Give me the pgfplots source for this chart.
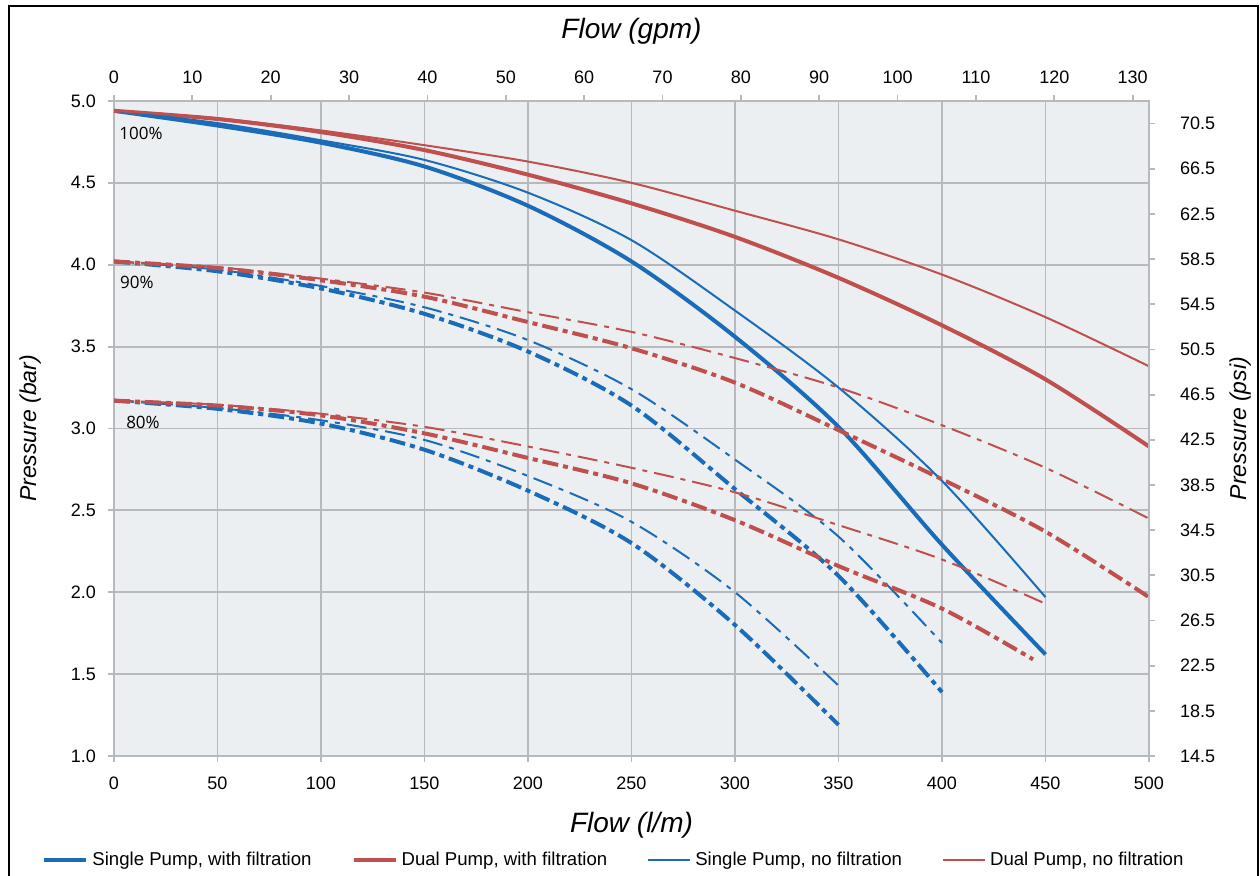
\documentclass[border=0pt]{standalone}
\usepackage{fontspec}
\setmainfont{Liberation Sans}
\newfontfamily\pctfont{Open Sans}
\usepackage{pgfplots}
\pgfplotsset{compat=1.18}
\definecolor{cblue}{RGB}{26,108,184}
\definecolor{cred}{RGB}{192,80,77}
\definecolor{bgc}{RGB}{236,239,242}
\definecolor{gridc}{RGB}{183,185,188}
\tikzset{
  thickdd/.style={line width=2pt, dash pattern=on 8pt off 2.5pt on 2.5pt off 2.5pt},
  thindd/.style={line width=1pt, dash pattern=on 10pt off 3.5pt on 2.5pt off 3.5pt},
}
\begin{document}
\begin{tikzpicture}
\useasboundingbox (0pt,0pt) rectangle (630pt,438pt);
\draw[line width=1.3pt] (4.5pt,-5pt) rectangle (629pt,435pt);
\begin{axis}[
  at={(57pt,60pt)}, anchor=south west, scale only axis,
  width=517.5pt, height=327.5pt,
  xmin=0, xmax=500, ymin=1, ymax=5,
  xtick={0,50,...,500}, ytick={1,1.5,...,5},
  xtick pos=bottom, ytick pos=left,
  grid=major, major grid style={gridc, line width=0.9pt},
  axis line style={gridc, line width=0.9pt, -},
  tick style={gridc, line width=0.9pt},
  tick align=outside, major tick length=3pt,
  axis background/.style={fill=bgc},
  ticklabel style={font=\fontsize{9}{10}\selectfont},
  /pgf/number format/assume math mode=true,
  yticklabel style={/pgf/number format/.cd, fixed, fixed zerofill, precision=1},
  xticklabel shift=4pt, yticklabel shift=2.5pt,
  xlabel={\itshape Flow (l/m)}, ylabel={\itshape Pressure (bar)},
  xlabel style={at={(axis description cs:0.5,-0.105)}, anchor=center, font=\fontsize{14}{16}\selectfont},
  ylabel style={at={(axis description cs:-0.081,0.5)}, anchor=center, font=\fontsize{11.5}{13}\selectfont},
  legend style={at={(axis description cs:0.484,-0.159)}, anchor=center, draw=none, fill=none,
    font=\fontsize{9.3}{11}\selectfont, /tikz/every even column/.append style={column sep=18pt}},
  legend columns=4, legend cell align=left,
  legend image code/.code={\draw[#1] (0pt,0pt) -- (21pt,0pt);},
]
% 100% curves
\addplot[cblue, line width=2pt, smooth] coordinates {(0,4.94)(50,4.85)(100,4.745)(150,4.60)(200,4.36)(250,4.02)(300,3.56)(350,3.01)(400,2.29)(450,1.62)};
\addlegendentry{Single Pump, with filtration}
\addplot[cred, line width=2pt, smooth] coordinates {(0,4.94)(50,4.89)(100,4.81)(150,4.70)(200,4.55)(250,4.375)(300,4.17)(350,3.92)(400,3.63)(450,3.30)(500,2.89)};
\addlegendentry{Dual Pump, with filtration}
\addplot[cblue, line width=1pt, smooth] coordinates {(0,4.94)(50,4.865)(100,4.76)(150,4.64)(200,4.44)(250,4.15)(300,3.72)(350,3.25)(400,2.68)(450,1.97)};
\addlegendentry{Single Pump, no filtration}
\addplot[cred, line width=1pt, smooth] coordinates {(0,4.94)(50,4.895)(100,4.82)(150,4.73)(200,4.63)(250,4.50)(300,4.33)(350,4.155)(400,3.94)(450,3.68)(500,3.38)};
\addlegendentry{Dual Pump, no filtration}
% 90% curves
\addplot[cblue, thickdd, smooth, forget plot] coordinates {(0,4.02)(50,3.96)(100,3.855)(150,3.70)(200,3.47)(250,3.14)(300,2.63)(350,2.10)(400,1.39)};
\addplot[cblue, thindd, smooth, forget plot] coordinates {(0,4.02)(50,3.97)(100,3.87)(150,3.74)(200,3.54)(250,3.24)(300,2.81)(350,2.34)(400,1.69)};
\addplot[cred, thickdd, smooth, forget plot] coordinates {(0,4.02)(50,3.98)(100,3.905)(150,3.805)(200,3.65)(250,3.49)(300,3.28)(350,2.99)(400,2.69)(450,2.37)(500,1.97)};
\addplot[cred, thindd, smooth, forget plot] coordinates {(0,4.02)(50,3.985)(100,3.915)(150,3.83)(200,3.71)(250,3.59)(300,3.43)(350,3.25)(400,3.02)(450,2.76)(500,2.45)};
% 80% curves
\addplot[cblue, thickdd, smooth, forget plot] coordinates {(0,3.17)(50,3.12)(100,3.03)(150,2.87)(200,2.62)(250,2.30)(300,1.80)(350,1.19)};
\addplot[cblue, thindd, smooth, forget plot] coordinates {(0,3.17)(50,3.125)(100,3.05)(150,2.93)(200,2.71)(250,2.43)(300,2.00)(350,1.43)};
\addplot[cred, thickdd, smooth, forget plot] coordinates {(0,3.17)(50,3.14)(100,3.08)(150,2.97)(200,2.82)(250,2.665)(300,2.44)(350,2.16)(400,1.90)(444,1.59)};
\addplot[cred, thindd, smooth, forget plot] coordinates {(0,3.17)(50,3.145)(100,3.09)(150,3.01)(200,2.89)(250,2.76)(300,2.61)(350,2.41)(400,2.20)(450,1.93)};
\node[font=\pctfont\fontsize{8.5}{10}\selectfont] at (axis cs:13,4.80) {100\%};
\node[font=\pctfont\fontsize{8.5}{10}\selectfont] at (axis cs:11,3.895) {90\%};
\node[font=\pctfont\fontsize{8.5}{10}\selectfont] at (axis cs:14,3.04) {80\%};
\end{axis}
\begin{axis}[
  at={(57pt,60pt)}, anchor=south west, scale only axis,
  width=517.5pt, height=327.5pt,
  xmin=0, xmax=132.086, ymin=14.5, ymax=72.5,
  axis x line*=top, axis y line*=right,
  xtick={0,10,...,130},
  ytick={14.5,18.5,22.5,26.5,30.5,34.5,38.5,42.5,46.5,50.5,54.5,58.5,62.5,66.5,70.5},
  axis line style={gridc, line width=0.9pt, -},
  tick style={gridc, line width=0.9pt},
  tick align=outside, major tick length=3pt,
  ticklabel style={font=\fontsize{9}{10}\selectfont},
  /pgf/number format/assume math mode=true,
  yticklabel style={/pgf/number format/.cd, fixed, fixed zerofill, precision=1},
  xticklabel shift=2pt, yticklabel shift=9pt,
  xlabel={\itshape Flow (gpm)}, ylabel={\itshape Pressure (psi)},
  xlabel style={at={(axis description cs:0.5,1.106)}, anchor=center, font=\fontsize{14}{16}\selectfont},
  ylabel style={at={(axis description cs:1.088,0.5)}, anchor=center, rotate=0, font=\fontsize{11.5}{13}\selectfont},
]
\addplot[draw=none, forget plot] coordinates {(0,14.5)(132,72.5)};
\end{axis}
\end{tikzpicture}
\end{document}
